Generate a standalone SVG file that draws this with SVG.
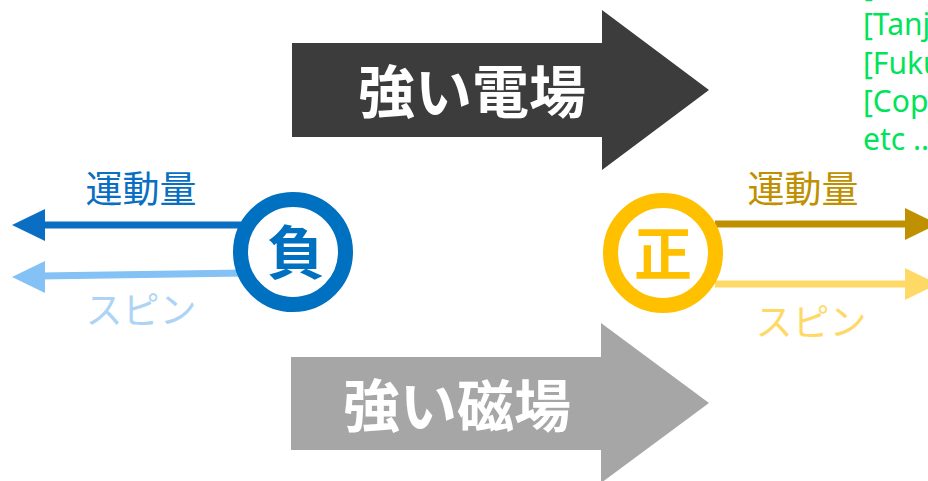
<svg xmlns="http://www.w3.org/2000/svg" width="928" height="481" viewBox="0 0 928 481">
<style>
.jp{font-family:"Noto Sans CJK JP","Noto Sans",sans-serif}
.big{font-size:57px;font-weight:bold;fill:#fff;text-anchor:middle}
.lbl{font-size:37px;text-anchor:middle}
.sym{font-size:58px;font-weight:bold;text-anchor:middle}
.ref{font-family:"Noto Sans","Open Sans",sans-serif;font-size:30px;fill:#00E35A}
</style>
<rect width="928" height="481" fill="#fff"/>
<g id="electric-field">
<polygon points="292,43 602,43 602,10 709,90 602,170 602,137 292,137" fill="#3C3C3C"/>
<text class="jp big" x="472" y="113">強い電場</text>
</g>
<g id="magnetic-field">
<polygon points="291,357 601,357 601,323 709,403 601,483 601,450 291,450" fill="#A6A6A6"/>
<text class="jp big" x="457" y="427">強い磁場</text>
</g>
<g id="connectors">
<line x1="245" y1="225" x2="40" y2="225" stroke="#0A6FC2" stroke-width="7"/>
<polygon points="12,225 45,209 45,241" fill="#0A6FC2"/>
<line x1="245" y1="273" x2="40" y2="276" stroke="#84C1F4" stroke-width="7"/>
<polygon points="12,277 45,261 45,293" fill="#84C1F4"/>
<line x1="715" y1="224" x2="908" y2="224" stroke="#BF9000" stroke-width="7"/>
<polygon points="938,224 905,208 905,240" fill="#BF9000"/>
<line x1="715" y1="284" x2="908" y2="284" stroke="#FFD966" stroke-width="7"/>
<polygon points="938,284 905,268 905,300" fill="#FFD966"/>
</g>
<g id="negative">
<circle cx="293" cy="252" r="52.5" fill="#fff" stroke="#0070C0" stroke-width="15"/>
<text class="jp sym" x="296" y="274" fill="#0070C0">負</text>
<text class="jp lbl" x="141" y="203" fill="#0A6FC2">運動量</text>
<text class="jp lbl" x="141" y="324" fill="#ADD4F5">スピン</text>
</g>
<g id="positive">
<circle cx="663" cy="253" r="52.5" fill="#fff" stroke="#FFC000" stroke-width="15"/>
<text class="jp sym" x="663" y="275" fill="#FFC000">正</text>
<text class="jp lbl" x="803" y="203" fill="#BF9000">運動量</text>
<text class="jp lbl" x="811" y="336" fill="#FFD966">スピン</text>
</g>
<g id="references">
<text class="ref" x="863" y="-4">[</text>
<text class="ref" x="863" y="35">[Tanji</text>
<text class="ref" x="863" y="74">[Fukushima</text>
<text class="ref" x="863" y="112">[Copinger</text>
<text class="ref" x="863" y="150">etc ...</text>
</g>
</svg>
